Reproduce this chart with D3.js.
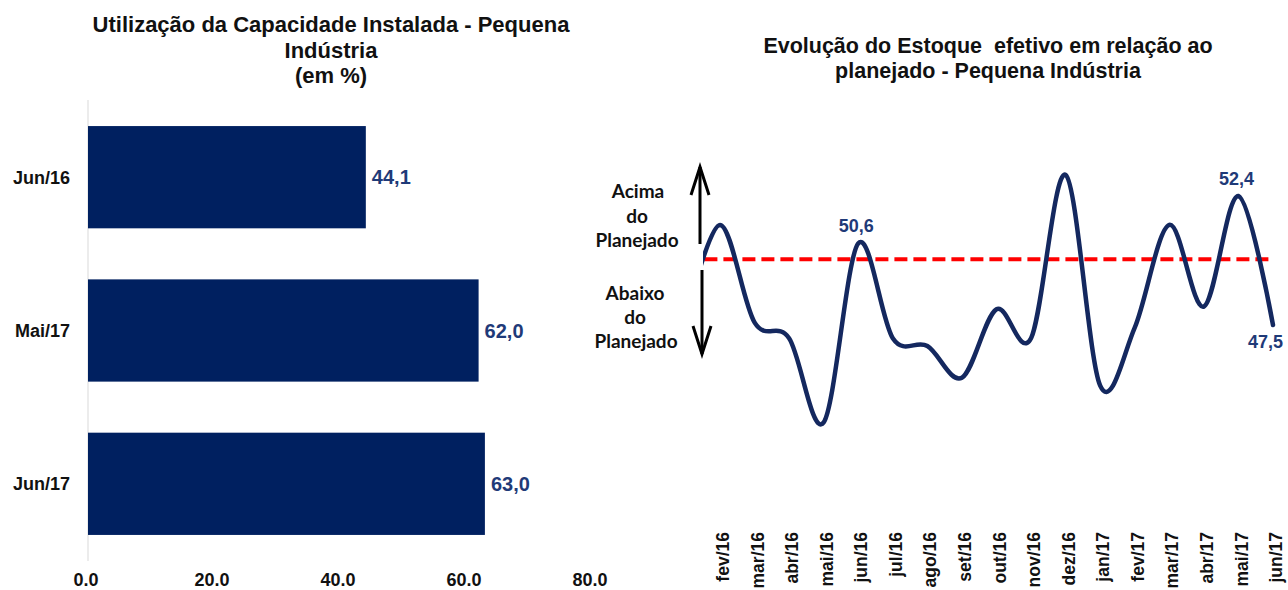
<!DOCTYPE html>
<html><head><meta charset="utf-8">
<script src="https://cdn.jsdelivr.net/npm/d3@7"></script>
<style>
html,body{margin:0;padding:0;background:#fff;}
svg{display:block;font-family:"Liberation Sans",Arial,sans-serif;}
</style></head>
<body><svg id="c" width="1288" height="590"></svg>
<script>
// ---- Left chart data ----
const barCategories = ["Jun/16", "Mai/17", "Jun/17"];
const barValues = [44.1, 62.0, 63.0];
const barTicks = [0, 20, 40, 60, 80];

// ---- Right chart data ----
const months = ["jan/16","fev/16","mar/16","abr/16","mai/16","jun/16","jul/16","ago/16","set/16","out/16","nov/16","dez/16","jan/17","fev/17","mar/17","abr/17","mai/17","jun/17"];
const stockValues = [47.6, 51.3, 47.6, 47.0, 43.8, 50.6, 47.0, 46.7, 45.5, 48.1, 47.0, 53.2, 45.2, 47.4, 51.3, 48.2, 52.4, 47.5];
const plannedLevel = 50;
const labelledMonths = ["jun/16", "mai/17", "jun/17"];

const svg = d3.select("#c");
const navy = "#002060";
const labelNavy = "#1F3A78";
const fmt = v => d3.format(".1f")(v).replace(".", ",");

// ===== Left: horizontal bars =====
const xL = d3.scaleLinear().domain([0, 80]).range([88, 592]);
const yL = d3.scaleBand().domain(barCategories).range([100, 561]).paddingInner(0.333).paddingOuter(0.17);

const tL = svg.append("text").attr("text-anchor","middle").attr("font-weight","bold").attr("font-size",22).attr("fill","#111");
["Utilização da Capacidade Instalada - Pequena","Indústria","(em %)"].forEach((s,i)=>{
  tL.append("tspan").attr("x",331).attr("y",32 + i*25.5).text(s);
});

svg.append("line").attr("x1",xL(0)).attr("x2",xL(0)).attr("y1",100).attr("y2",561).attr("stroke","#d9d9d9").attr("stroke-width",1);

svg.selectAll("rect.bar").data(barValues).join("rect").attr("class","bar")
  .attr("x", xL(0)).attr("y",(d,i)=>yL(barCategories[i]))
  .attr("width", d=>xL(d)-xL(0)).attr("height", yL.bandwidth()).attr("fill", navy);

svg.selectAll("text.val").data(barValues).join("text").attr("class","val")
  .attr("x", d=>xL(d)+6).attr("y",(d,i)=>yL(barCategories[i])+yL.bandwidth()/2)
  .attr("dy","0.36em").attr("font-weight","bold").attr("font-size",20).attr("fill",labelNavy).text(fmt);

svg.selectAll("text.cat").data(barCategories).join("text").attr("class","cat")
  .attr("x", 70).attr("y", d=>yL(d)+yL.bandwidth()/2).attr("dy","0.36em")
  .attr("text-anchor","end").attr("font-weight","bold").attr("font-size",18).attr("fill","#111").text(d=>d);

svg.selectAll("text.xt").data(barTicks).join("text").attr("class","xt")
  .attr("x", d=>xL(d)-2).attr("y", 586).attr("text-anchor","middle")
  .attr("font-weight","bold").attr("font-size",18).attr("fill","#111").text(d=>d.toFixed(1));

// ===== Right: line chart =====
const xR = d3.scalePoint().domain(months).range([685.4, 1273]);
const yR = d3.scaleLinear().domain([40, 55]).range([522.5, 127.5]);

const tR = svg.append("text").attr("text-anchor","middle").attr("font-weight","bold").attr("font-size",21.5).attr("fill","#111");
["Evolução do Estoque  efetivo em relação ao","planejado - Pequena Indústria"].forEach((s,i)=>{
  tR.append("tspan").attr("x",988).attr("y",53 + i*25).style("white-space","pre").text(s);
});

svg.append("defs").append("clipPath").attr("id","plot").append("rect")
  .attr("x", 703).attr("y", 100).attr("width", 585).attr("height", 420);

const g = svg.append("g").attr("clip-path","url(#plot)");
g.append("path").datum(months)
  .attr("d", d3.line().x(m=>xR(m)).y(()=>yR(plannedLevel)))
  .attr("fill","none").attr("stroke","#ff0000").attr("stroke-width",4).attr("stroke-dasharray","13,6");

g.append("path").datum(stockValues)
  .attr("d", d3.line().x((d,i)=>xR(months[i])).y(d=>yR(d)).curve(d3.curveCardinal.tension(0)))
  .attr("fill","none").attr("stroke","#14285f").attr("stroke-width",4.5).attr("stroke-linecap","round");

// value labels
const lab = months.map((m,i)=>({m, v: stockValues[i]})).filter(d=>labelledMonths.includes(d.m));
svg.selectAll("text.lv").data(lab).join("text").attr("class","lv")
  .attr("x", d=> d.m==="jun/17" ? xR(d.m)-25 : xR(d.m)-2)
  .attr("y", d=> d.m==="jun/17" ? yR(d.v)+23 : yR(d.v)-11)
  .attr("text-anchor", d=> d.m==="jun/17" ? "start" : "middle")
  .attr("font-weight","bold").attr("font-size",18).attr("fill",labelNavy).text(d=>fmt(d.v));

// x labels rotated
svg.selectAll("text.mx").data(months.slice(1)).join("text").attr("class","mx")
  .attr("transform", m=>`translate(${xR(m)+3},532) rotate(-90)`)
  .attr("dy","0.35em").attr("text-anchor","end")
  .attr("font-weight","bold").attr("font-size",17.5).attr("fill","#111").text(m=>m);

// arrows
function arrow(x, y1, y2){
  const dir = Math.sign(y2 - y1);
  svg.append("line").attr("x1",x).attr("x2",x).attr("y1",y1).attr("y2",y2).attr("stroke","#000").attr("stroke-width",3);
  svg.append("path").attr("d",`M${x-9},${y2-dir*28} L${x},${y2} L${x+9},${y2-dir*28}`)
    .attr("fill","none").attr("stroke","#000").attr("stroke-width",3);
}
arrow(700, 244, 167);
arrow(702, 270, 354);

const side = svg.append("g").attr("font-family","Lato, 'Open Sans', sans-serif").attr("font-weight","bold").attr("font-size",19).attr("fill","#111").attr("text-anchor","middle");
[["Acima",638,198],["do",637,223],["Planejado",637,247],["Abaixo",635,300],["do",635,324],["Planejado",636,348]].forEach(([s,x,y])=>{
  side.append("text").attr("x",x).attr("y",y).text(s);
});
</script></body></html>
